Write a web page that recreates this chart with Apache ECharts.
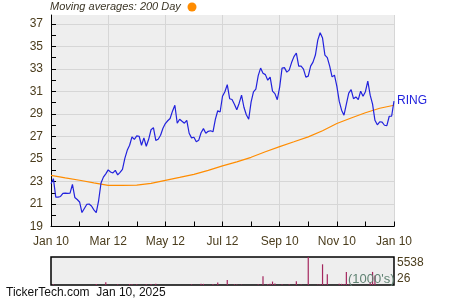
<!DOCTYPE html>
<html><head><meta charset="utf-8">
<script src="https://cdn.jsdelivr.net/npm/echarts@6/dist/echarts.min.js"></script>
<style>html,body{margin:0;padding:0;background:#fff}#c{width:450px;height:300px}</style>
</head><body><div id="c"></div>
<script>
// x axis: 145 evenly spaced steps (12 per month), labels every 24 steps
const xTickLabels = ['Jan 10','Mar 12','May 12','Jul 12','Sep 10','Nov 10','Jan 10'];
const yTickLabels = [19,21,23,25,27,29,31,33,35,37];
const volLabels = [26, 5538];

// RING closing price, one value per step
const price = [
22.80,23.25,21.61,21.61,21.67,21.94,21.96,21.94,21.96,22.74,
21.58,21.40,21.18,20.24,20.60,20.96,21.00,20.82,20.48,20.24,
21.31,22.87,23.39,23.68,24.03,23.85,23.76,23.99,23.59,23.81,
24.08,25.06,25.77,26.22,26.96,26.75,27.06,27.02,26.22,26.88,
26.13,26.75,27.60,27.79,26.66,26.75,27.11,27.73,28.15,28.40,
28.60,29.25,29.78,28.18,28.53,28.35,28.18,28.44,27.29,26.88,
26.93,26.53,26.66,27.33,27.70,27.29,27.46,27.51,27.42,28.53,
29.29,29.18,30.58,30.98,31.61,30.36,30.29,29.87,29.38,29.96,
30.67,29.60,28.93,28.53,30.05,30.97,31.21,32.41,33.08,32.63,
32.50,32.01,32.28,31.03,30.81,30.27,31.39,33.08,33.12,32.72,
32.90,33.57,34.10,34.42,33.26,33.26,32.99,32.28,32.37,33.26,
33.61,34.24,35.57,36.22,35.75,34.24,34.01,33.26,32.30,32.45,
31.47,30.14,29.34,28.89,29.87,30.85,31.16,30.36,30.52,30.27,
31.03,30.58,30.98,31.92,30.67,29.87,28.44,28.04,28.31,28.27,
28.00,27.96,28.80,28.80,30.14
];

// 200-day moving average, read every 6 steps (half month)
const ma200 = [23.54,23.32,23.11,22.87,22.65,22.65,22.68,22.83,23.10,23.36,23.63,23.99,
  24.39,24.75,25.15,25.64,26.10,26.53,26.97,27.51,28.15,28.64,29.11,29.51,29.78];
const maStep = 6;

// volume (1000's): step index and value
const volDay = [1,19,23,28,33,34,36,40,42,44,59,63,64,68,70,74,77,78,80,87,
  89,91,92,93,94,97,100,103,105,108,112,113,114,115,116,121,122,123,124,125,134,135,136];
const volK = [150,200,550,180,200,150,180,150,200,250,150,250,250,200,500,1000,150,100,100,180,
  1750,200,250,700,300,150,150,750,120,5538,120,150,4100,150,2150,250,250,200,2600,150,500,2600,1900];

const N = price.length;
const cats = price.map((_, i) => String(i));
const maData = new Array(N).fill(null);
ma200.forEach((v, k) => { maData[k * maStep] = v; });
const volData = new Array(N).fill(null);
volDay.forEach((d, k) => { volData[d] = volK[k]; });
const yMinor = [];
for (let v = 19; v <= 37; v++) yMinor.push(v);

const labelColor = '#4a3c1c';
const gridColor = '#d6d6d6';
const FONT = '"Liberation Sans", Arial, sans-serif';

const chart = echarts.init(document.getElementById('c'), null, {renderer: 'canvas'});
chart.setOption({
  animation: false,
  textStyle: {fontFamily: FONT},
  title: [
    {text: 'Moving averages: 200 Day', left: 50, top: 1, padding: 0,
     textStyle: {fontSize: 11, fontStyle: 'italic', fontWeight: 'normal', color: '#3b3526', fontFamily: FONT}},
    {text: 'TickerTech.com  Jan 10, 2025', left: 6, top: 287, padding: 0,
     textStyle: {fontSize: 12, fontWeight: 'normal', color: '#111', fontFamily: FONT}},
    {text: "(1000's)", left: 348, top: 273, padding: 0, z: 10,
     textStyle: {fontSize: 13, fontWeight: 'normal', color: '#5f8272', fontFamily: FONT}}
  ],
  graphic: [
    {type: 'circle', shape: {cx: 192, cy: 7, r: 4.5}, style: {fill: '#ff8c00'}}
  ],
  grid: [
    {left: 51, top: 15, width: 343, height: 211.5, show: true, backgroundColor: '#eeeeee', borderWidth: 0},
    {left: 51, top: 257, width: 343, height: 28, show: true, backgroundColor: '#eeeeee', borderColor: '#000', borderWidth: 1.5}
  ],
  xAxis: [
    {type: 'category', gridIndex: 0, data: cats, boundaryGap: false,
     axisLine: {lineStyle: {color: '#000', width: 1}},
     axisTick: {inside: true, length: 5, interval: 11, lineStyle: {color: '#000'}},
     axisLabel: {interval: 23, color: labelColor, fontSize: 12, margin: 9,
       formatter: (v, i) => (i % 24 === 0 ? xTickLabels[i / 24] : '')},
     splitLine: {show: true, interval: 23, lineStyle: {color: gridColor, width: 1}}},
    {type: 'category', gridIndex: 1, data: cats, boundaryGap: false,
     axisLine: {show: false}, axisTick: {show: false}, axisLabel: {show: false}, splitLine: {show: false}}
  ],
  yAxis: [
    {type: 'value', gridIndex: 0, min: 19, max: 37.8, interval: 1,
     axisLine: {show: true, lineStyle: {color: '#000', width: 1}},
     axisTick: {show: true, inside: true, length: 5, customValues: yMinor, lineStyle: {color: '#000'}},
     axisLabel: {color: labelColor, fontSize: 12, margin: 8, showMaxLabel: false,
       formatter: v => (yTickLabels.indexOf(v) >= 0 ? String(v) : '')},
     splitLine: {show: true, lineStyle: {color: [gridColor, 'rgba(0,0,0,0)'], width: 1}}},
    {type: 'value', gridIndex: 1, position: 'right', min: volLabels[0], max: volLabels[1],
     interval: volLabels[1] - volLabels[0],
     axisLine: {show: false}, axisTick: {show: false}, splitLine: {show: false},
     axisLabel: {color: labelColor, fontSize: 12, margin: 3,
       formatter: v => String(Math.round(v)),
       verticalAlignMaxLabel: 'top', verticalAlignMinLabel: 'bottom'}}
  ],
  series: [
    {type: 'line', name: 'MA200', xAxisIndex: 0, yAxisIndex: 0, data: maData, connectNulls: true,
     showSymbol: false, symbol: 'none', lineStyle: {color: '#ff8c00', width: 1.2}, z: 2},
    {type: 'line', name: 'RING', xAxisIndex: 0, yAxisIndex: 0, data: price,
     showSymbol: false, symbol: 'none', lineStyle: {color: '#2222dd', width: 1.2}, z: 3,
     endLabel: {show: true, formatter: 'RING', color: '#2222dd', fontSize: 12, distance: 3, fontFamily: FONT}},
    {type: 'bar', name: 'Volume', xAxisIndex: 1, yAxisIndex: 1, data: volData, barWidth: 1.2,
     itemStyle: {color: '#a4265e'}}
  ]
});
</script></body></html>
